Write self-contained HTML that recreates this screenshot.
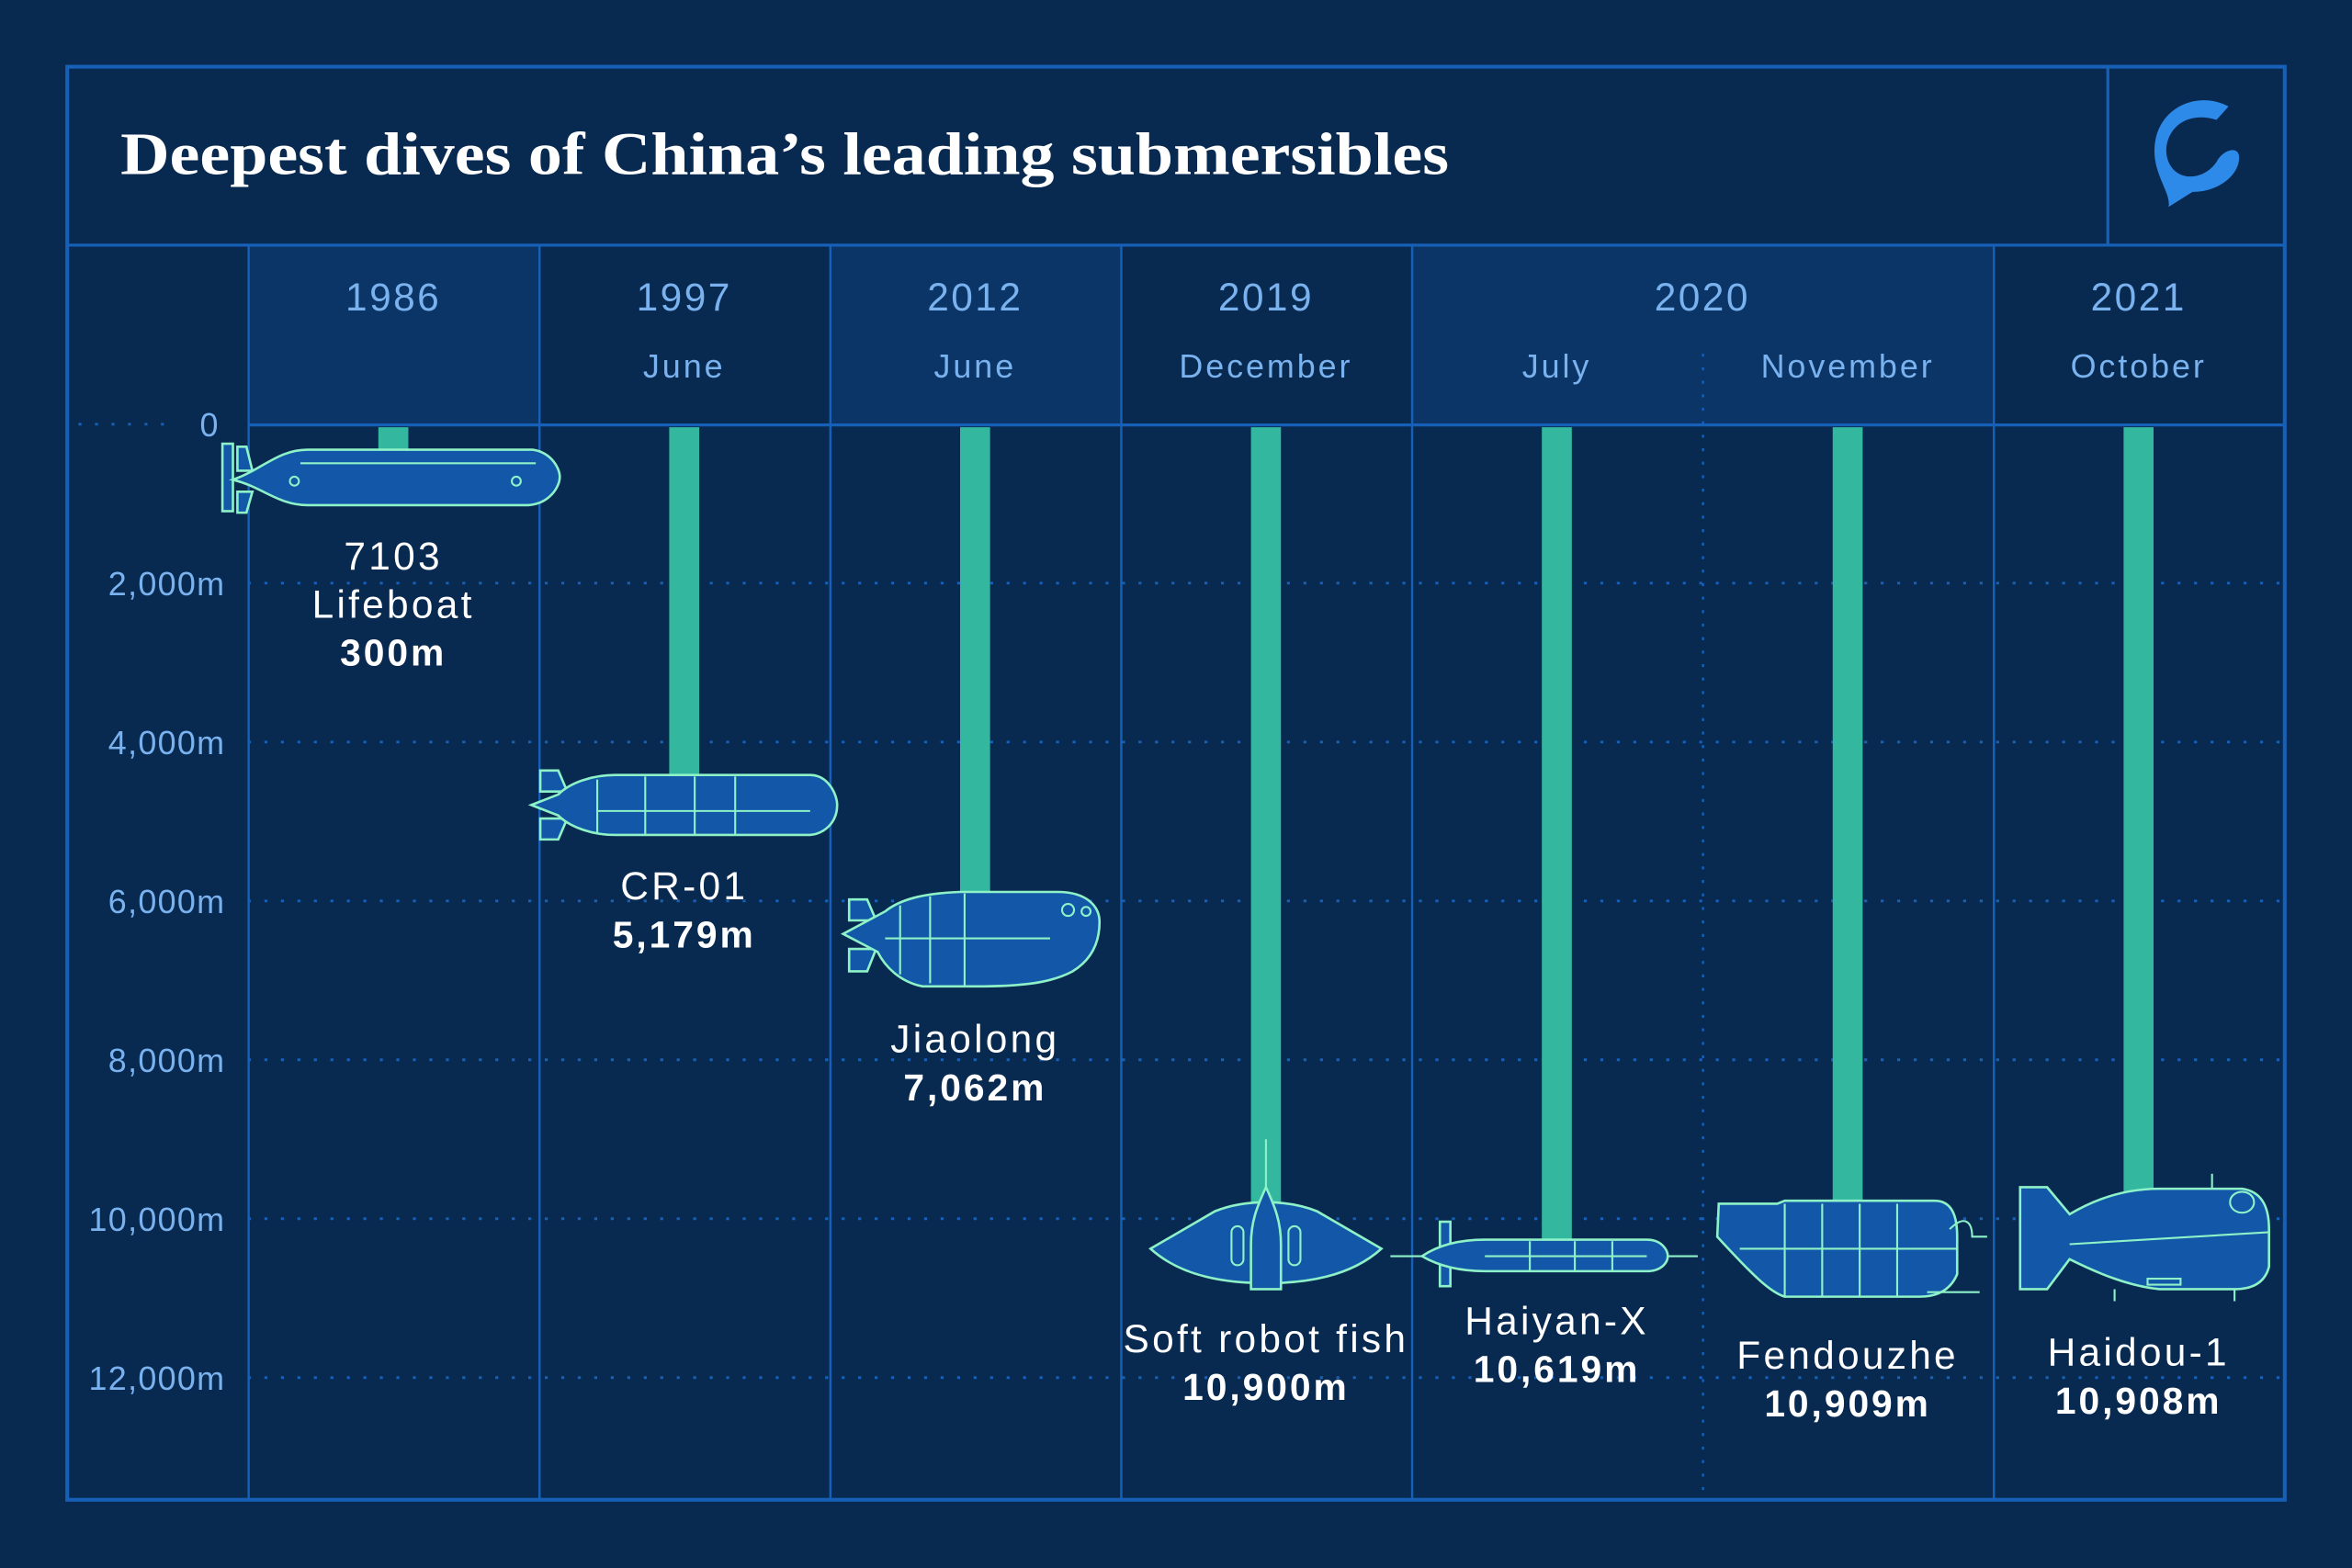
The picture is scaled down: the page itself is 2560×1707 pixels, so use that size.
<!DOCTYPE html>
<html><head><meta charset="utf-8"><style>
html,body{margin:0;padding:0;background:#082950;}
svg{display:block}
.ax{font-family:"Liberation Sans",sans-serif;font-size:22px;fill:#79b2ee;letter-spacing:0.8px}
.hd{font-family:"Liberation Sans",sans-serif;font-size:26px;fill:#79b2ee;text-anchor:middle;letter-spacing:1.5px}
.hm{font-family:"Liberation Sans",sans-serif;font-size:22px;fill:#79b2ee;text-anchor:middle;letter-spacing:1.8px}
.nm{font-family:"Liberation Sans",sans-serif;font-size:26px;fill:#fff;text-anchor:middle;letter-spacing:2px}
.vl{font-family:"Liberation Sans",sans-serif;font-size:25px;font-weight:bold;fill:#fff;text-anchor:middle;letter-spacing:1.8px}
.sub{fill:#1257a8;stroke:#8ef2c8;stroke-width:1.6}
.ln{stroke:#8ef2c8;stroke-width:1.3;fill:none}
.bar{fill:#33b79f}
</style></head><body>
<svg width="2560" height="1707" viewBox="0 0 1568 1046" xmlns="http://www.w3.org/2000/svg">
<rect width="1568" height="1046" fill="#082950"/>
<rect x="165" y="164" width="194" height="119" fill="#0b3566"/>
<rect x="553" y="164" width="194" height="119" fill="#0b3566"/>
<rect x="941" y="164" width="388" height="119" fill="#0b3566"/>
<g stroke="#1660b8" fill="none">
<rect x="44.5" y="44.5" width="1479" height="956" stroke-width="2.5"/>
<line x1="44" y1="163.5" x2="1523" y2="163.5" stroke-width="2"/>
<line x1="1405.5" y1="44" x2="1405.5" y2="163" stroke-width="2"/>
<line x1="165" y1="283.5" x2="1523" y2="283.5" stroke-width="2"/>
<g stroke-width="1.5">
<line x1="165.5" y1="163" x2="165.5" y2="1000"/>
<line x1="359.5" y1="163" x2="359.5" y2="1000"/>
<line x1="553.5" y1="163" x2="553.5" y2="1000"/>
<line x1="747.5" y1="163" x2="747.5" y2="1000"/>
<line x1="941.5" y1="163" x2="941.5" y2="1000"/>
<line x1="1329.5" y1="163" x2="1329.5" y2="1000"/>
</g>
<line x1="1135.5" y1="236" x2="1135.5" y2="1000" stroke-width="1.5" stroke-dasharray="2 7"/>
<g stroke-width="1.8" stroke-dasharray="2 9">
<line x1="52" y1="283" x2="118" y2="283"/>
<line x1="165" y1="389" x2="1520" y2="389"/>
<line x1="165" y1="495" x2="1520" y2="495"/>
<line x1="165" y1="601" x2="1520" y2="601"/>
<line x1="165" y1="707" x2="1520" y2="707"/>
<line x1="165" y1="813" x2="1520" y2="813"/>
<line x1="165" y1="919" x2="1520" y2="919"/>
</g>
</g>
<text x="80" y="116" font-family="Liberation Serif,serif" font-weight="bold" font-size="40" fill="#fff" textLength="886" lengthAdjust="spacingAndGlyphs">Deepest dives of China’s leading submersibles</text>
<path d="M1486 71 C1465 60 1440 72 1437 95 C1434 115 1448 128 1446 138 L1462 128 C1480 128 1494 116 1493 104 C1492 97 1482 100 1478 108 C1470 120 1452 122 1446 108 C1440 94 1452 72 1478 80 Z" fill="#2e8ae8"/>
<text class="hd" x="262" y="207">1986</text>
<text class="hd" x="456" y="207">1997</text>
<text class="hd" x="650" y="207">2012</text>
<text class="hd" x="844" y="207">2019</text>
<text class="hd" x="1135" y="207">2020</text>
<text class="hd" x="1426" y="207">2021</text>
<text class="hm" x="456" y="252">June</text>
<text class="hm" x="650" y="252">June</text>
<text class="hm" x="844" y="252">December</text>
<text class="hm" x="1038" y="252">July</text>
<text class="hm" x="1232" y="252">November</text>
<text class="hm" x="1426" y="252">October</text>
<g class="ax" text-anchor="end">
<text x="146" y="291">0</text>
<text x="150" y="397">2,000m</text>
<text x="150" y="503">4,000m</text>
<text x="150" y="609">6,000m</text>
<text x="150" y="715">8,000m</text>
<text x="150" y="821">10,000m</text>
<text x="150" y="927">12,000m</text>
</g>
<rect class="bar" x="252" y="285" width="20" height="15"/>
<rect class="bar" x="446" y="285" width="20" height="235"/>
<rect class="bar" x="640" y="285" width="20" height="315"/>
<rect class="bar" x="834" y="285" width="20" height="520"/>
<rect class="bar" x="1028" y="285" width="20" height="545"/>
<rect class="bar" x="1222" y="285" width="20" height="520"/>
<rect class="bar" x="1416" y="285" width="20" height="515"/>
<rect class="sub" x="148" y="296" width="7" height="45"/>
<path class="sub" d="M158 298 L164 298 L168 314 L158 314 Z M158 328 L168 328 L164 342 L158 342Z"/>
<path class="sub" d="M155 320 C175 313 185 300 205 300 L355 300 C368 302 373 313 373 318 C373 325 366 336 352 337 L205 337 C185 337 175 325 155 320 Z"/>
<line class="ln" x1="200" y1="309" x2="357" y2="309"/>
<circle class="ln" cx="196" cy="321" r="3"/><circle class="ln" cx="344" cy="321" r="3"/>
<path class="sub" d="M360 514 L372 514 L378 528 L360 528 Z M360 546 L378 546 L372 560 L360 560Z"/>
<path class="sub" d="M354 537 L372 530 C380 522 395 517 410 517 L540 517 C552 517 558 530 558 537 C558 548 550 557 538 557 L410 557 C395 557 380 552 372 544 Z"/>
<g class="ln"><line x1="398" y1="520" x2="398" y2="556"/><line x1="430" y1="518" x2="430" y2="557"/><line x1="463" y1="518" x2="463" y2="557"/><line x1="490" y1="518" x2="490" y2="557"/><line x1="398" y1="541" x2="540" y2="541"/></g>
<path class="sub" d="M566 600 L578 600 L584 614 L566 614Z M566 633 L584 633 L578 648 L566 648Z"/>
<path class="sub" d="M562 623 L590 608 C600 600 615 596 640 595 L705 595 C725 595 733 605 733 615 C733 628 728 640 715 648 C700 656 680 658 650 658 L615 658 C600 655 590 645 585 635 Z"/>
<g class="ln"><line x1="600" y1="604" x2="600" y2="650"/><line x1="620" y1="598" x2="620" y2="656"/><line x1="643" y1="596" x2="643" y2="658"/><line x1="590" y1="626" x2="700" y2="626"/><circle cx="712" cy="607" r="4"/><circle cx="724" cy="608" r="3"/></g>
<line class="ln" x1="844" y1="760" x2="844" y2="795"/>
<path class="sub" d="M767 833 L810 808 C830 800 858 800 878 808 L921 833 C900 852 870 856 844 856 C818 856 788 852 767 833 Z"/>
<path class="sub" d="M844 792 C850 805 854 815 854 830 L854 860 L834 860 L834 830 C834 815 838 805 844 792 Z"/>
<rect class="ln" x="821" y="818" width="8" height="26" rx="4"/><rect class="ln" x="859" y="818" width="8" height="26" rx="4"/>
<line class="ln" x1="927" y1="838" x2="948" y2="838"/><line class="ln" x1="1110" y1="838" x2="1132" y2="838"/>
<rect class="sub" x="960" y="815" width="7" height="43"/>
<path class="sub" d="M948 838 C960 830 975 827 990 827 L1098 827 C1108 827 1112 834 1112 838 C1112 842 1108 848 1098 848 L990 848 C975 848 960 845 948 838 Z"/>
<g class="ln"><line x1="990" y1="838" x2="1098" y2="838"/><line x1="1020" y1="828" x2="1020" y2="848"/><line x1="1050" y1="828" x2="1050" y2="848"/><line x1="1075" y1="828" x2="1075" y2="848"/></g>
<path class="sub" d="M1146 803 L1185 803 L1190 801 L1290 801 C1302 801 1305 812 1305 825 L1305 850 C1300 862 1290 865 1280 865 L1190 865 C1180 862 1168 850 1145 825 Z"/>
<g class="ln"><line x1="1160" y1="833" x2="1305" y2="833"/><line x1="1190" y1="803" x2="1190" y2="865"/><line x1="1215" y1="803" x2="1215" y2="865"/><line x1="1240" y1="803" x2="1240" y2="865"/><line x1="1265" y1="803" x2="1265" y2="865"/><path d="M1300 820 C1310 810 1315 815 1315 825 L1325 825"/><line x1="1285" y1="862" x2="1320" y2="862"/></g>
<path class="sub" d="M1347 792 L1365 792 L1380 810 C1400 798 1420 793 1440 793 L1495 793 C1510 795 1513 808 1513 820 L1513 845 C1510 857 1500 860 1490 860 L1440 860 C1420 858 1400 850 1380 840 L1365 860 L1347 860 Z"/>
<g class="ln"><line x1="1380" y1="830" x2="1513" y2="822"/><ellipse cx="1495" cy="802" rx="8" ry="7"/><line x1="1410" y1="860" x2="1410" y2="868"/><line x1="1490" y1="860" x2="1490" y2="868"/><line x1="1475" y1="783" x2="1475" y2="793"/><rect x="1432" y="853" width="22" height="4"/></g>
<text class="nm" x="262" y="380">7103</text>
<text class="nm" x="262" y="412">Lifeboat</text>
<text class="vl" x="262" y="444">300m</text>
<text class="nm" x="456" y="600">CR-01</text>
<text class="vl" x="456" y="632">5,179m</text>
<text class="nm" x="650" y="702">Jiaolong</text>
<text class="vl" x="650" y="734">7,062m</text>
<text class="nm" x="844" y="902">Soft robot fish</text>
<text class="vl" x="844" y="934">10,900m</text>
<text class="nm" x="1038" y="890">Haiyan-X</text>
<text class="vl" x="1038" y="922">10,619m</text>
<text class="nm" x="1232" y="913">Fendouzhe</text>
<text class="vl" x="1232" y="945">10,909m</text>
<text class="nm" x="1426" y="911">Haidou-1</text>
<text class="vl" x="1426" y="943">10,908m</text>
</svg>
</body></html>
